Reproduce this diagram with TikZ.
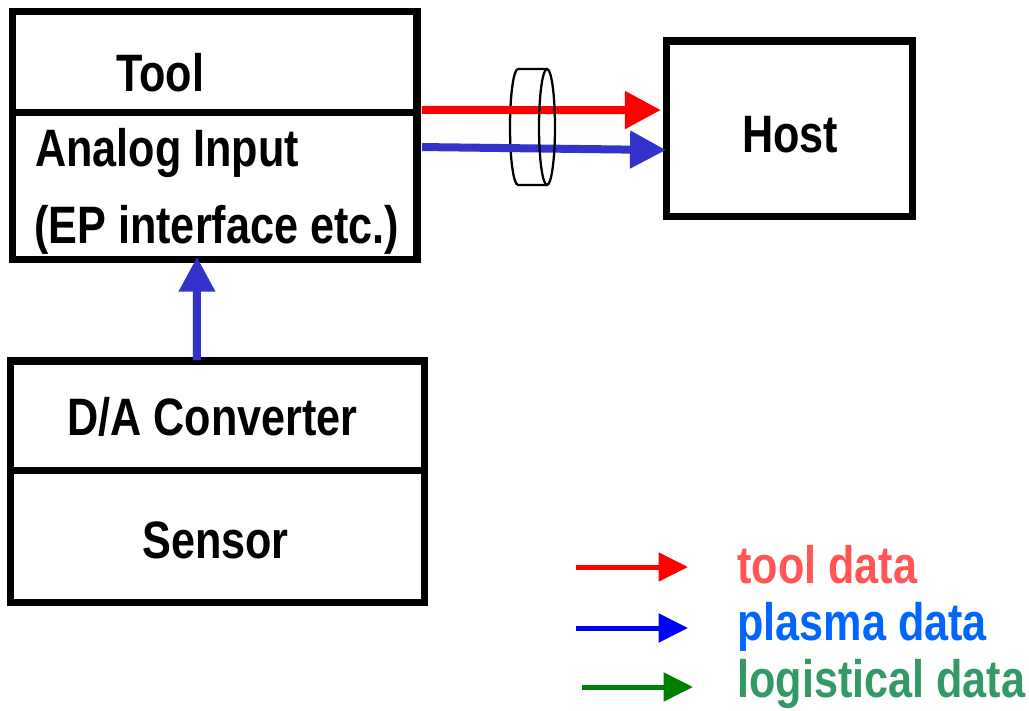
\documentclass[tikz,border=0pt]{standalone}
\usepackage{fontspec}
\newfontfamily\narrowfont{Liberation Sans}[FakeStretch=0.82]
\usetikzlibrary{arrows.meta}
\definecolor{flowblue}{RGB}{51,51,204}
\definecolor{keygreen}{RGB}{0,128,0}
\definecolor{tooltext}{RGB}{255,85,85}
\definecolor{plasmatext}{RGB}{0,102,255}
\definecolor{logtext}{RGB}{51,153,102}

\begin{document}
\begin{tikzpicture}[x=0.75pt, y=-0.75pt,
    part/.style={draw, line width=5.6pt, inner sep=0pt, outer sep=0pt},
    lbl/.style={anchor=base west, inner sep=0pt, font=\narrowfont\bfseries\fontsize{39.5}{46}\selectfont},
    flow/.style={line width=6pt, -{Triangle[length=27pt, width=27pt]}},
    key/.style={line width=3.75pt, -{Triangle[length=22pt, width=21pt]}},
    cyl/.style={line width=1.7pt}]
    \useasboundingbox (0,0) rectangle (1029,711);

    \node[part, minimum width=303.2pt, minimum height=75.75pt] (tool) at (214.85,62) {};
    \node[part, minimum width=303.2pt, minimum height=110.25pt] (ai) at (214.85,186) {};
    \node[part, minimum width=184.35pt, minimum height=131.8pt] (host) at (789.6,128.85) {};
    \node[part, minimum width=310.5pt, minimum height=82.1pt] (da) at (217.5,415.75) {};
    \node[part, minimum width=310.5pt, minimum height=99pt] (sensor) at (217.5,536.5) {};

    \node[lbl] (toollbl) at (116,91) {Tool};
    \node[lbl] (ailbl) at (35,166) {Analog Input};
    \node[lbl] (eplbl) at (34,243) {(EP interface etc.)};
    \node[lbl] (hostlbl) at (742,152) {Host};
    \node[lbl] (dalbl) at (67,435) {D/A Converter};
    \node[lbl] (sensorlbl) at (142,558) {Sensor};

    % cable
    \draw[cyl] (547,69) -- (518,69) arc (270:90:8 and 58) -- (547,185);

    \draw[flow, red] ([xshift=3.75pt, yshift=1.9pt]tool.south east) -- ([xshift=-4.3pt, yshift=14.1pt]host.west);
    \draw[flow, flowblue] ([xshift=3.75pt, yshift=-25.9pt]ai.north east) -- ([xshift=-0.5pt, yshift=-15.9pt]host.west);
    \draw[line width=6pt, flowblue, -{Triangle[length=26pt, width=26pt]}] ([xshift=-15.4pt, yshift=0.75pt]da.north) -- ([xshift=-13.4pt, yshift=1.9pt]ai.south);

    \draw[cyl] (547,127) ellipse [x radius=8, y radius=58];

    % legend
    \coordinate (redfrom) at (576,567);
    \coordinate (redto) at (688,567);
    \coordinate (bluefrom) at (576,628);
    \coordinate (blueto) at (688,628);
    \coordinate (greenfrom) at (582,687);
    \coordinate (greento) at (693,687);
    \draw[key, red] (redfrom) -- (redto);
    \draw[key, blue] (bluefrom) -- (blueto);
    \draw[key, keygreen] (greenfrom) -- (greento);
    \node[lbl, text=tooltext] (toolkey) at (737,583) {tool data};
    \node[lbl, text=plasmatext] (plasmakey) at (737,640) {plasma data};
    \node[lbl, text=logtext] (logkey) at (737,697) {logistical data};
\end{tikzpicture}
\end{document}
